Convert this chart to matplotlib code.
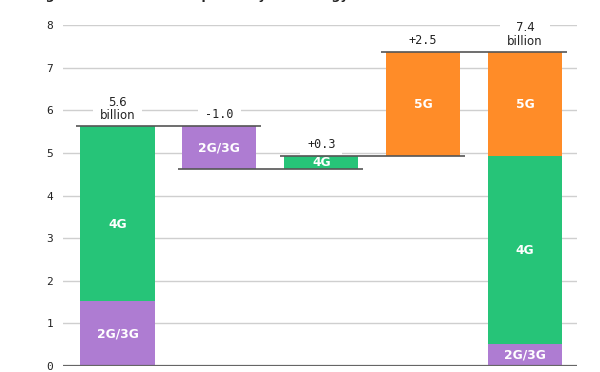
import matplotlib
matplotlib.use("Agg")
import matplotlib.pyplot as plt

# ---- data ----
title = "Figure 4: Mobile subscriptions by technology (billion)"
techs = ["2G/3G", "4G", "5G"]
start_values = [1.52, 4.1, 0.0]          # 2G/3G, 4G, 5G at start
change_techs = ["2G/3G", "4G", "5G"]
change_values = [-1.0, 0.3, 2.45]
change_labels = ["-1.0", "+0.3", "+2.5"]
start_label = "5.6\nbillion"
end_label = "7.4\nbillion"
yticks = [0, 1, 2, 3, 4, 5, 6, 7, 8]

colors = {"2G/3G": "#AE7CD2", "4G": "#26C478", "5G": "#FF8C28"}
grid_c = "#CFCFCF"
line_c = "#555555"

fig = plt.figure(figsize=(6.0, 3.72), dpi=100)
ax = fig.add_axes([63/600, 6/372, 514/600, 341/372])
ax.set_xlim(-0.535, 4.51)
ax.set_ylim(0, 8)
W = 0.727
ext = 0.41

for s in ax.spines.values():
    s.set_visible(False)
ax.set_xticks([])
ax.set_yticks(yticks)
ax.tick_params(axis="y", length=0, pad=7, labelsize=8, labelcolor="#222222")
for lab in ax.get_yticklabels():
    lab.set_fontfamily("DejaVu Sans Mono")
for y in yticks[1:]:
    ax.axhline(y, color=grid_c, lw=1.0, zorder=0)
ax.axhline(0, color="#666666", lw=1.6, zorder=3)

def bar_label(x, bottom, h, text, dy=0.0):
    ax.text(x, bottom + h / 2 + dy, text, color="white", ha="center", va="center",
            fontsize=8.8, fontweight="bold", zorder=5)

def top_label(x, y, text, mono=False):
    fam = "DejaVu Sans Mono" if mono else "DejaVu Sans"
    ax.text(x, y, text, ha="center", va="bottom", fontsize=8.5, color="#222222",
            family=fam, linespacing=1.05, zorder=1, clip_on=False,
            bbox=dict(facecolor="white", edgecolor="none", pad=5))

# start stacked bar
bottom = 0.0
for t, v in zip(techs, start_values):
    if v > 0:
        ax.bar(0, v, width=W, bottom=bottom, color=colors[t], zorder=2)
        bar_label(0, bottom, v, t, dy=(-0.25 if t == "4G" else 0.0))
        bottom += v
level = bottom
start_total = bottom
top_label(0, start_total + 0.1, start_label)

# waterfall changes
end_values = list(start_values)
for i, (t, v, lab) in enumerate(zip(change_techs, change_values, change_labels), start=1):
    lo = min(level, level + v)
    ax.bar(i, abs(v), width=W, bottom=lo, color=colors[t], zorder=2)
    bar_label(i, lo, abs(v), t)
    ax.plot([i - 1 - ext, i + ext], [level, level], color=line_c, lw=1.2, zorder=4,
            solid_capstyle="butt")
    level = level + v
    top_label(i, max(level, level - v) + 0.12, lab, mono=True)
    end_values[techs.index(t)] += v

# connector to final bar
n = len(change_values) + 1
ax.plot([n - 1 - ext, n + ext], [level, level], color=line_c, lw=1.2, zorder=4,
        solid_capstyle="butt")
# end stacked bar
bottom = 0.0
for t, v in zip(techs, end_values):
    if v > 0:
        ax.bar(n, v, width=W, bottom=bottom, color=colors[t], zorder=2)
        bar_label(n, bottom, v, t)
        bottom += v
top_label(n, bottom + 0.1, end_label)

# title (cut off at the top edge, as in the reference)
fig.text(33/600, 1 + 0.5/372, title, ha="left", va="baseline", fontsize=9,
         fontweight="bold", color="#222222")

fig.savefig("out.png", dpi=100)
